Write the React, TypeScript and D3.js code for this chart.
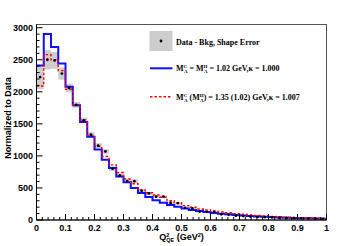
import React from 'react';
import * as d3 from 'd3';

// 40 bins of 0.025 GeV^2 between 0 and 1
const binEdges = d3.range(41).map((i) => i * 0.025);

const dataVals = [2230, 2500, 2490, 2285, 2060, 1795, 1555, 1330, 1160, 1070, 800, 695, 608, 605, 455, 415, 365, 365, 265, 262,
  190, 180, 132, 128, 128, 88, 80, 68, 62, 54, 50, 45, 40, 36, 32, 28, 24, 21, 18, 16];
const shapeErr = [190, 150, 130, 95, 65, 45, 42, 40, 38, 36, 34, 32, 30, 28, 26, 24, 22, 20, 18, 17,
  16, 15, 14, 13, 12, 11, 10, 9, 9, 8, 8, 7, 7, 6, 6, 5, 5, 5, 4, 4];
const blueVals = [2410, 2900, 2700, 2440, 2080, 1790, 1530, 1300, 1100, 940, 810, 680, 590, 500, 420, 360, 310, 270, 235, 205,
  180, 157, 140, 125, 110, 98, 88, 78, 70, 62, 56, 50, 45, 40, 36, 32, 29, 26, 23, 20];
const redVals = [2090, 2580, 2500, 2330, 2040, 1790, 1560, 1320, 1150, 990, 860, 740, 640, 565, 470, 425, 390, 355, 300, 270,
  225, 198, 172, 155, 140, 125, 112, 100, 90, 80, 72, 64, 57, 51, 45, 40, 36, 32, 28, 25];

const xTicks = [0, 0.1, 0.2, 0.3, 0.4, 0.5, 0.6, 0.7, 0.8, 0.9, 1];
const yTicks = [0, 500, 1000, 1500, 2000, 2500, 3000];

const W = 363;
const H = 246;
const frame = { left: 36.5, right: 326.5, top: 24.5, bottom: 220 };

const App: React.FC = () => {
  const x = d3.scaleLinear().domain([0, 1]).range([frame.left, frame.right]);
  const y = d3.scaleLinear().domain([0, 3050]).range([frame.bottom, frame.top]);

  const step = (vals: number[]) => {
    const pts: [number, number][] = vals.map((v, i) => [binEdges[i], v]);
    pts.push([1, vals[vals.length - 1]]);
    return d3.line<[number, number]>()
      .x((d) => x(d[0]))
      .y((d) => y(d[1]))
      .curve(d3.curveStepAfter)(pts) || '';
  };

  const minorX = d3.range(0, 1.0001, 0.02);
  const minorY = d3.range(0, 3001, 100);

  const tickFont = { fontFamily: 'Liberation Sans, Arial, sans-serif', fontWeight: 'bold' as const, fontSize: 9 };
  const legFont = { fontFamily: 'Liberation Serif, Times New Roman, serif', fontWeight: 'bold' as const, fontSize: 8 };

  return (
    <svg width={W} height={H} style={{ position: 'absolute', left: 0, top: 0, background: '#fff' }}>
      {/* shape error boxes */}
      {dataVals.map((v, i) => (
        <rect key={'e' + i} x={x(binEdges[i])} width={x(binEdges[i + 1]) - x(binEdges[i])}
          y={y(v + shapeErr[i])} height={y(v - shapeErr[i]) - y(v + shapeErr[i])} fill="#cdcdcd" />
      ))}
      <path d={step(blueVals)} fill="none" stroke="#1010ff" strokeWidth={2} />
      <path d={step(redVals)} fill="none" stroke="#ff0000" strokeWidth={1.4} strokeDasharray="2.5,2" />
      {dataVals.map((v, i) => (
        <circle key={'d' + i} cx={x((binEdges[i] + binEdges[i + 1]) / 2)} cy={y(v)} r={1.4} fill="#000" />
      ))}

      {/* frame */}
      <rect x={frame.left} y={frame.top} width={frame.right - frame.left} height={frame.bottom - frame.top}
        fill="none" stroke="#555" strokeWidth={1} />
      <line x1={frame.left} x2={frame.left} y1={frame.top} y2={frame.bottom} stroke="#000" />
      <line x1={frame.left} x2={frame.right} y1={frame.bottom} y2={frame.bottom} stroke="#000" />

      {/* x ticks */}
      {minorX.map((t, i) => (
        <line key={'mx' + i} x1={x(t)} x2={x(t)} y1={frame.bottom} y2={frame.bottom - (i % 5 === 0 ? 6 : 3)} stroke="#000" />
      ))}
      {xTicks.map((t) => (
        <text key={'xt' + t} x={x(t)} y={231} textAnchor="middle" {...tickFont}>{t}</text>
      ))}
      {/* y ticks */}
      {minorY.map((t, i) => (
        <line key={'my' + i} x1={frame.left} x2={frame.left + (i % 5 === 0 ? 6 : 3)} y1={y(t)} y2={y(t)} stroke="#000" />
      ))}
      {yTicks.map((t) => (
        <text key={'yt' + t} x={33} y={y(t) + 3.2} textAnchor="end" {...tickFont}>{t}</text>
      ))}

      {/* axis titles */}
      <text x={x(0.5)} y={240} textAnchor="middle" {...tickFont}>
        Q<tspan fontSize={5.5} dy={-3.5}>2</tspan><tspan fontSize={5.5} dx={-3} dy={5.5}>QE</tspan>
        <tspan dy={-2}> (GeV</tspan><tspan fontSize={5.5} dy={-3.5}>2</tspan><tspan dy={3.5}>)</tspan>
      </text>
      <text transform="rotate(-90)" x={-118} y={11} textAnchor="middle" {...tickFont}>Normalized to Data</text>

      {/* legend */}
      <rect x={149.5} y={31} width={23} height={20} fill="#cdcdcd" />
      <circle cx={161} cy={41} r={1.4} fill="#000" />
      <text x={176} y={44.5} {...legFont}>Data - Bkg, Shape Error</text>

      <line x1={150} x2={172.5} y1={68.3} y2={68.3} stroke="#1010ff" strokeWidth={2} />
      <text x={176} y={71} {...legFont}>
        M<tspan fontSize={5} dy={-3}>C</tspan><tspan fontSize={5} dx={-3.3} dy={5}>A</tspan>
        <tspan dy={-2}> = M</tspan><tspan fontSize={5} dy={-3}>H</tspan><tspan fontSize={5} dx={-3.6} dy={5}>A</tspan>
        <tspan dy={-2}> = 1.02 GeV,κ = 1.000</tspan>
      </text>

      <line x1={150} x2={172.5} y1={96.7} y2={96.7} stroke="#ff0000" strokeWidth={1.4} strokeDasharray="2.5,2" />
      <text x={176} y={99.5} {...legFont}>
        M<tspan fontSize={5} dy={-3}>C</tspan><tspan fontSize={5} dx={-3.3} dy={5}>A</tspan>
        <tspan dy={-2}> (M</tspan><tspan fontSize={5} dy={-3}>H</tspan><tspan fontSize={5} dx={-3.6} dy={5}>A</tspan>
        <tspan dy={-2}>) = 1.35 (1.02) GeV,κ = 1.007</tspan>
      </text>
    </svg>
  );
};

export default App;
